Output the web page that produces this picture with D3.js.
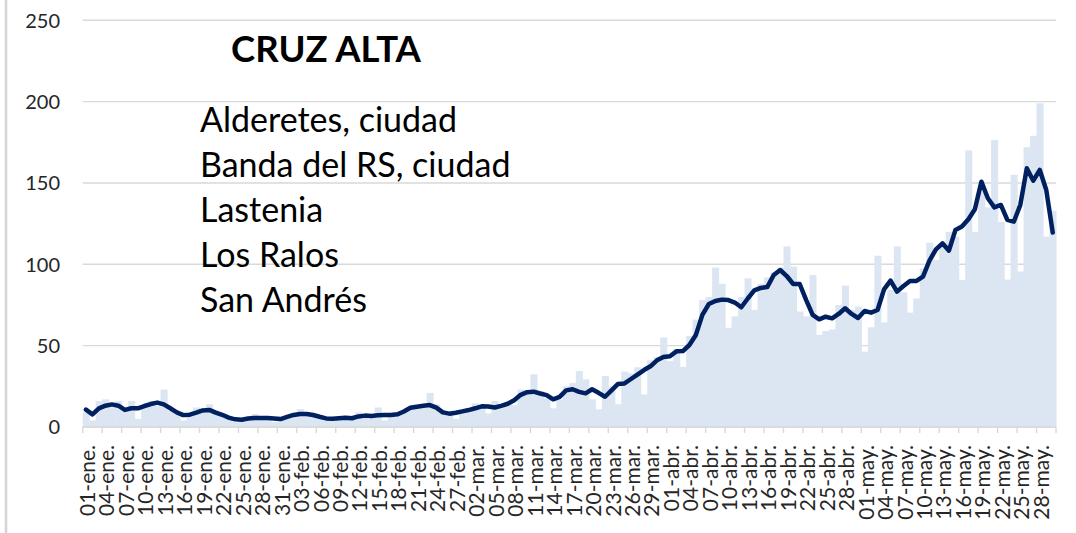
<!DOCTYPE html>
<html>
<head>
<meta charset="utf-8">
<script src="https://cdn.jsdelivr.net/npm/d3@7"></script>
<style>
  html, body { margin: 0; padding: 0; background: #ffffff; }
  svg { display: block; }
</style>
</head>
<body>
<svg id="chart" width="1076" height="533"></svg>
<script>
// ---------------- DATA ----------------
const startDate = new Date(2021, 0, 1);
const endDate = new Date(2021, 4, 31); // exclusive -> last day 30-may
const categories = d3.timeDay.range(startDate, endDate); // 150 days

// daily values (bars)
const dailyCases = [
  9, 4, 16, 17, 13, 16, 10, 16, 5, 13,
  16, 13, 23, 10, 8, 4, 7, 12, 9, 14,
  10, 7, 5, 3, 4, 6, 8, 6, 5, 3,
  4, 6, 8, 11, 9, 7, 5, 4, 5, 6,
  6, 5, 9, 7, 6, 12, 4, 8, 7, 9,
  12, 13, 12, 21, 14, 10, 8, 5, 9, 9,
  14.5, 13, 8.4, 16, 12, 14, 13.5, 23, 20, 32.4,
  22, 18, 11.5, 17, 25, 27, 34.4, 29.3, 17, 10.9,
  31.4, 25, 14, 34, 33, 36.7, 20, 41, 43, 55,
  40.6, 48, 37, 56, 66, 78, 80, 98, 88, 61,
  68, 80, 91.4, 72, 88, 92, 95, 98, 111, 98.6,
  71, 68, 93.4, 56.6, 59, 60, 75, 87, 72, 74,
  46.3, 61.3, 105.3, 64.3, 84.2, 111, 82.8, 70.3, 79, 97.5,
  113.3, 102.7, 113, 120, 117, 90.4, 170, 120, 145, 135,
  176.4, 126, 90.6, 155, 95.5, 172, 179, 199, 117, 133
];

// average line
const averageLine = [
  10.7, 7.8, 11.5, 13.1, 13.9, 13.1, 10.5, 11.5, 11.5, 12.9,
  14.1, 15, 13.9, 11.5, 9, 7.3, 7.6, 8.8, 10.2, 10.5,
  8.8, 7.5, 5.8, 4.7, 4.5, 5.2, 5.6, 5.6, 5.5, 5.2,
  4.9, 6.2, 7.4, 8, 8, 7.4, 6.3, 5.3, 5.1, 5.4,
  5.7, 5.4, 6.5, 7, 6.8, 7.2, 7.4, 7.4, 7.8, 9.5,
  11.8, 12.5, 13, 13.5, 11.9, 9, 8.2, 8.8, 9.6, 10.4,
  11.5, 12.7, 12.6, 12, 13, 14.3, 16.5, 19.8, 21.4, 21.7,
  20.6, 19.6, 17, 18.5, 22.5, 23.2, 21.6, 20.7, 23.2, 21,
  18.6, 22.5, 26.5, 26.8, 29.5, 32.2, 35, 37.3, 41, 43,
  43.5, 46.5, 46.7, 50.4, 56.6, 68.9, 75.6, 77.5, 78.3, 78,
  76.5, 73.6, 79, 84, 85.5, 86, 93.4, 96.5, 92.8, 87.9,
  87.9, 78, 68.9, 66.2, 67.8, 66.8, 69.5, 73, 69.5, 67,
  71.3, 70.3, 71.9, 84.6, 90, 83.2, 86.7, 89.8, 89.8, 92.4,
  102.3, 109.2, 112.9, 108.4, 121.1, 123.2, 127.7, 133.8, 150.8, 140.6,
  135, 136.5, 127.3, 126.2, 136.5, 159, 151.4, 158, 145.7, 119.5
];

const yTicks = [0, 50, 100, 150, 200, 250];
const xTickLabels = [
  "01-ene.", "04-ene.", "07-ene.", "10-ene.", "13-ene.", "16-ene.", "19-ene.", "22-ene.", "25-ene.", "28-ene.",
  "31-ene.", "03-feb.", "06-feb.", "09-feb.", "12-feb.", "15-feb.", "18-feb.", "21-feb.", "24-feb.", "27-feb.",
  "02-mar.", "05-mar.", "08-mar.", "11-mar.", "14-mar.", "17-mar.", "20-mar.", "23-mar.", "26-mar.", "29-mar.",
  "01-abr.", "04-abr.", "07-abr.", "10-abr.", "13-abr.", "16-abr.", "19-abr.", "22-abr.", "25-abr.", "28-abr.",
  "01-may.", "04-may.", "07-may.", "10-may.", "13-may.", "16-may.", "19-may.", "22-may.", "25-may.", "28-may."
];
const labelStep = 3;

const titleText = "CRUZ ALTA";
const localities = ["Alderetes, ciudad", "Banda del RS, ciudad", "Lastenia", "Los Ralos", "San Andrés"];

// ---------------- LAYOUT ----------------
const plot = { left: 82.7, right: 1056, top: 20.3, bottom: 427 };
const svg = d3.select("#chart");

const idx = d3.range(categories.length);
const x = d3.scaleBand().domain(idx).range([plot.left, plot.right]).padding(0);
const y = d3.scaleLinear().domain([0, 250]).range([plot.bottom, plot.top]);
const bw = x.bandwidth();

// left border of the chart frame
svg.append("line")
  .attr("x1", 6).attr("x2", 6).attr("y1", 0).attr("y2", 533)
  .attr("stroke", "#d4d4d4").attr("stroke-width", 2.5);

// gridlines
svg.append("g").selectAll("line").data(yTicks).join("line")
  .attr("x1", plot.left).attr("x2", plot.right)
  .attr("y1", d => y(d)).attr("y2", d => y(d))
  .attr("stroke", "#d9d9d9").attr("stroke-width", 1.4);

// y labels
svg.append("g").selectAll("text").data(yTicks).join("text")
  .attr("x", 60).attr("y", d => y(d)).attr("dy", "0.36em")
  .attr("text-anchor", "end")
  .attr("font-family", "Lato, 'Open Sans', sans-serif")
  .attr("font-size", 20).attr("fill", "#262626")
  .text(d => d);

// bars
svg.append("g").selectAll("rect").data(dailyCases).join("rect")
  .attr("x", (d, i) => x(i))
  .attr("width", bw + 0.6)
  .attr("y", d => y(d))
  .attr("height", d => y(0) - y(d))
  .attr("fill", "#dce6f3");

// x axis line
svg.append("line")
  .attr("x1", plot.left).attr("x2", plot.right)
  .attr("y1", y(0)).attr("y2", y(0))
  .attr("stroke", "#d9d9d9").attr("stroke-width", 1.4);

// tick marks at every 3rd category boundary
const tickIdx = d3.range(0, categories.length + 1, labelStep);
svg.append("g").selectAll("line").data(tickIdx).join("line")
  .attr("x1", d => plot.left + d * bw).attr("x2", d => plot.left + d * bw)
  .attr("y1", y(0)).attr("y2", y(0) + 6)
  .attr("stroke", "#d9d9d9").attr("stroke-width", 1.4);

// x labels
svg.append("g").selectAll("text").data(xTickLabels).join("text")
  .attr("transform", (d, k) => `translate(${x(k * labelStep) + bw / 2 + 9},445) rotate(-90)`)
  .attr("text-anchor", "end")
  .attr("font-family", "Lato, 'Open Sans', sans-serif")
  .attr("font-size", 21).attr("fill", "#262626")
  .text(d => d);

// average line
const line = d3.line()
  .x((d, i) => x(i) + bw / 2)
  .y(d => y(d));
svg.append("path")
  .datum(averageLine)
  .attr("d", line)
  .attr("fill", "none")
  .attr("stroke", "#002060")
  .attr("stroke-width", 4.5)
  .attr("stroke-linejoin", "round")
  .attr("stroke-linecap", "round");

// title
svg.append("text")
  .attr("x", 231).attr("y", 62)
  .attr("font-family", "Lato, 'Open Sans', sans-serif")
  .attr("font-weight", "bold")
  .attr("font-size", 36.5).attr("fill", "#000")
  .text(titleText);

// localities
svg.append("g").selectAll("text").data(localities).join("text")
  .attr("x", 200).attr("y", (d, i) => 132 + i * 45)
  .attr("font-family", "Lato, 'Open Sans', sans-serif")
  .attr("font-size", 34).attr("fill", "#000")
  .text(d => d);
</script>
</body>
</html>
